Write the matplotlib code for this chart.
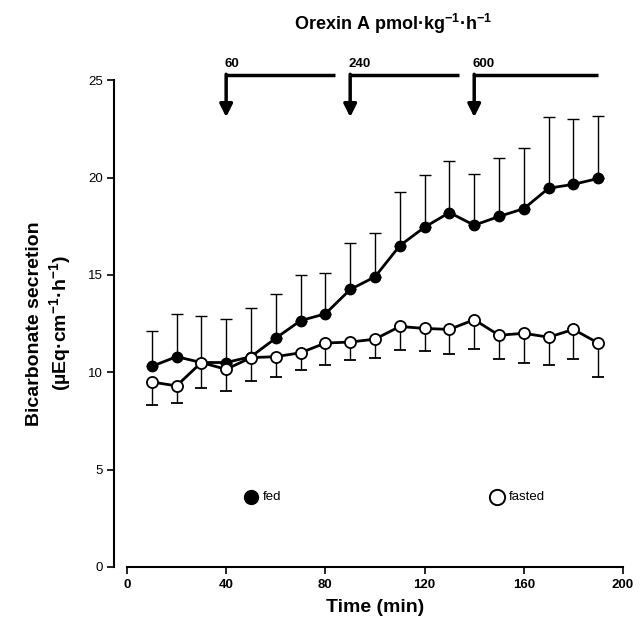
import matplotlib
matplotlib.use("Agg")
import matplotlib.pyplot as plt

plt.rcParams["font.family"] = ["Liberation Sans", "DejaVu Sans"]
plt.rcParams["mathtext.fontset"] = "custom"
plt.rcParams["mathtext.rm"] = "Liberation Sans"
plt.rcParams["mathtext.bf"] = "Liberation Sans:bold"

time_min = [10, 20, 30, 40, 50, 60, 70, 80, 90, 100,
            110, 120, 130, 140, 150, 160, 170, 180, 190]

fed_mean = [10.3, 10.8, 10.5, 10.5, 10.8, 11.75, 12.65, 13.0, 14.25, 14.9,
            16.5, 17.45, 18.2, 17.55, 18.0, 18.4, 19.45, 19.65, 19.95]
fed_upper = [12.1, 13.0, 12.9, 12.75, 13.3, 14.0, 15.0, 15.1, 16.65, 17.15,
             19.25, 20.15, 20.85, 20.2, 21.0, 21.5, 23.1, 23.0, 23.15]

fasted_mean = [9.5, 9.3, 10.5, 10.15, 10.75, 10.8, 11.0, 11.5, 11.55, 11.7,
               12.35, 12.25, 12.2, 12.7, 11.9, 12.0, 11.8, 12.2, 11.5]
fasted_lower = [8.3, 8.4, 9.2, 9.05, 9.55, 9.75, 10.1, 10.35, 10.65, 10.75,
                11.15, 11.1, 10.95, 11.2, 10.7, 10.5, 10.35, 10.7, 9.75]

# infusion steps: start time, end of bar, dose label
dose_start = [40, 90, 140]
dose_end = [84, 134, 190]
dose_label = ["60", "240", "600"]

x_ticks = [0, 40, 80, 120, 160, 200]
y_ticks = [0, 5, 10, 15, 20, 25]

fig = plt.figure(figsize=(6.41, 6.36), dpi=100)
ax = fig.add_axes([0.198, 0.1085, 0.774, 0.7655])

fed_err = [[0] * len(fed_mean), [u - m for u, m in zip(fed_upper, fed_mean)]]
fasted_err = [[m - l for m, l in zip(fasted_mean, fasted_lower)], [0] * len(fasted_mean)]

ax.errorbar(time_min, fed_mean, yerr=fed_err, fmt="-o", color="black", lw=2,
            ms=7.5, mfc="black", mec="black", ecolor="black", elinewidth=1,
            capsize=4, capthick=1, zorder=3)
ax.errorbar(time_min, fasted_mean, yerr=fasted_err, fmt="-o", color="black", lw=2,
            ms=8, mfc="white", mec="black", mew=1.3, ecolor="black", elinewidth=1,
            capsize=4, capthick=1, zorder=4)

# legend drawn as marker + text inside the axes
ax.plot([50], [3.6], "o", color="black", ms=10)
ax.text(55, 3.6, "fed", va="center", ha="left", fontsize=9.5)
ax.plot([149], [3.6], "o", mfc="white", mec="black", mew=1.4, ms=11)
ax.text(154, 3.6, "fasted", va="center", ha="left", fontsize=9.5)

# dose arrows above the plot
for xs, xe, lab in zip(dose_start, dose_end, dose_label):
    ax.plot([xs, xe], [25.25, 25.25], color="black", lw=2.5, clip_on=False,
            solid_capstyle="butt")
    ax.annotate("", xy=(xs, 23.1), xytext=(xs, 25.3),
                arrowprops=dict(arrowstyle="-|>", color="black", lw=2.5,
                                mutation_scale=19, shrinkA=0, shrinkB=0),
                annotation_clip=False)
    ax.text(xs - 0.5, 25.5, lab, ha="left", va="bottom", fontsize=9.5, fontweight="bold")

fig.text(0.613, 0.963, "Orexin A pmol·kg$^{\\mathbf{-1}}$·h$^{\\mathbf{-1}}$",
         ha="center", va="center", fontsize=13, fontweight="bold")

ax.set_xlim(0, 200)
ax.set_ylim(0, 25)
ax.set_xticks(x_ticks)
ax.set_yticks(y_ticks)
ax.tick_params(direction="out", length=5, width=1.2, labelsize=9.5)
for lbl in ax.get_xticklabels() + ax.get_yticklabels():
    lbl.set_fontweight("bold")
for s in ["top", "right"]:
    ax.spines[s].set_visible(False)
ax.spines["left"].set_position(("outward", 9))
ax.spines["left"].set_linewidth(1.5)
ax.spines["bottom"].set_linewidth(1.5)

ax.set_xlabel("Time (min)", fontsize=14, fontweight="bold", labelpad=6)
ax.set_ylabel("Bicarbonate secretion\n(µEq·cm$^{\\mathbf{-1}}$·h$^{\\mathbf{-1}}$)",
              fontsize=14, fontweight="bold", labelpad=10)

fig.savefig("out.png", dpi=100)
